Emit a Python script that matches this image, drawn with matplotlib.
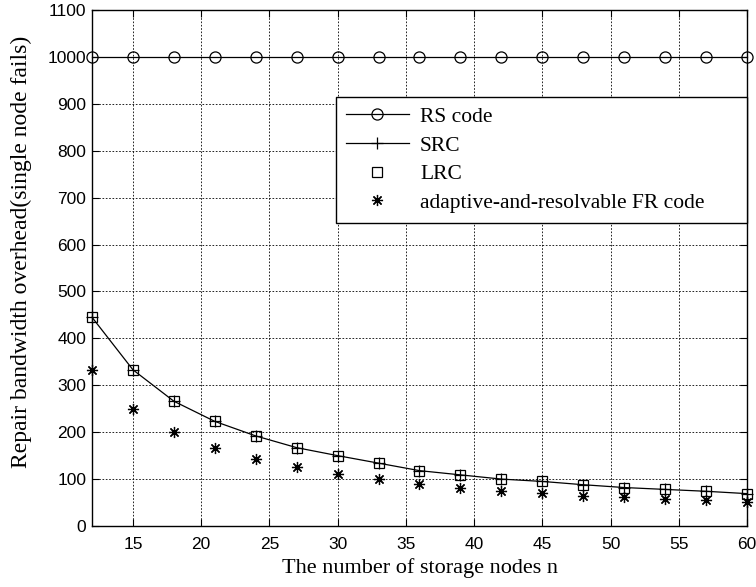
import matplotlib
matplotlib.use("Agg")
import matplotlib.pyplot as plt

n_nodes = [12, 15, 18, 21, 24, 27, 30, 33, 36, 39, 42, 45, 48, 51, 54, 57, 60]
rs_code = [1000] * 17
src = [445, 333, 266, 223, 192, 167, 150, 134, 118, 109, 100, 95, 88, 82, 78, 74, 69]
lrc = [445, 333, 266, 223, 192, 167, 150, 134, 118, 109, 100, 95, 88, 82, 78, 74, 69]
fr_code = [333, 250, 201, 167, 143, 125, 111, 100, 90, 81, 74, 70, 65, 61, 58, 55, 52]

x_ticks = [15, 20, 25, 30, 35, 40, 45, 50, 55, 60]
y_ticks = list(range(0, 1101, 100))

serif = "Liberation Serif"
sans = "Liberation Sans"

fig = plt.figure(figsize=(7.56, 5.87), dpi=100)
ax = fig.add_axes([92/756, 1-526/587, (747-92)/756, (526-10)/587])

ax.plot(n_nodes, rs_code, color="black", lw=0.9, marker="o", ms=8,
        mfc="none", mec="black", mew=0.9, label="RS code", clip_on=False, zorder=3)
ax.plot(n_nodes, src, color="black", lw=0.9, marker="+", ms=9,
        mew=0.9, label="SRC", clip_on=False, zorder=3)
ax.plot(n_nodes, lrc, ls="none", marker="s", ms=7.5, mfc="none",
        mec="black", mew=0.9, label="LRC", clip_on=False, zorder=3)
ax.plot(n_nodes, fr_code, ls="none", marker=(8, 2, 0), ms=8,
        color="black", mew=0.9, label="adaptive-and-resolvable FR code",
        clip_on=False, zorder=3)

ax.set_xlim(12, 60)
ax.set_ylim(0, 1100)
ax.set_xticks(x_ticks)
ax.set_yticks(y_ticks)
ax.grid(True, ls=(0, (2, 2)), color="black", lw=0.6)
ax.tick_params(direction="in", top=True, right=True, length=5, width=0.8,
               labelsize=12.5)
ax.tick_params(axis="x", pad=8)
ax.tick_params(axis="y", pad=4)
for lab in ax.get_xticklabels() + ax.get_yticklabels():
    lab.set_family(sans)
for s in ax.spines.values():
    s.set_linewidth(1.0)

ax.set_xlabel("The number of storage nodes n", family=serif, fontsize=16, labelpad=4)
ax.set_ylabel("Repair bandwidth overhead(single node fails)", family=serif,
              fontsize=17)
ax.yaxis.set_label_coords(-0.092, 0.532)

leg = ax.legend(loc="upper left", bbox_to_anchor=(0.3725, 0.587, 0.6275, 0.244),
                mode="expand",
                prop={"family": serif, "size": 15.5}, frameon=True,
                fancybox=False, edgecolor="black", framealpha=1,
                borderpad=0.45, labelspacing=0.4, handlelength=2.95,
                handletextpad=0.5, borderaxespad=0)
leg.get_frame().set_linewidth(1.0)

fig.savefig("out.png", dpi=100)
